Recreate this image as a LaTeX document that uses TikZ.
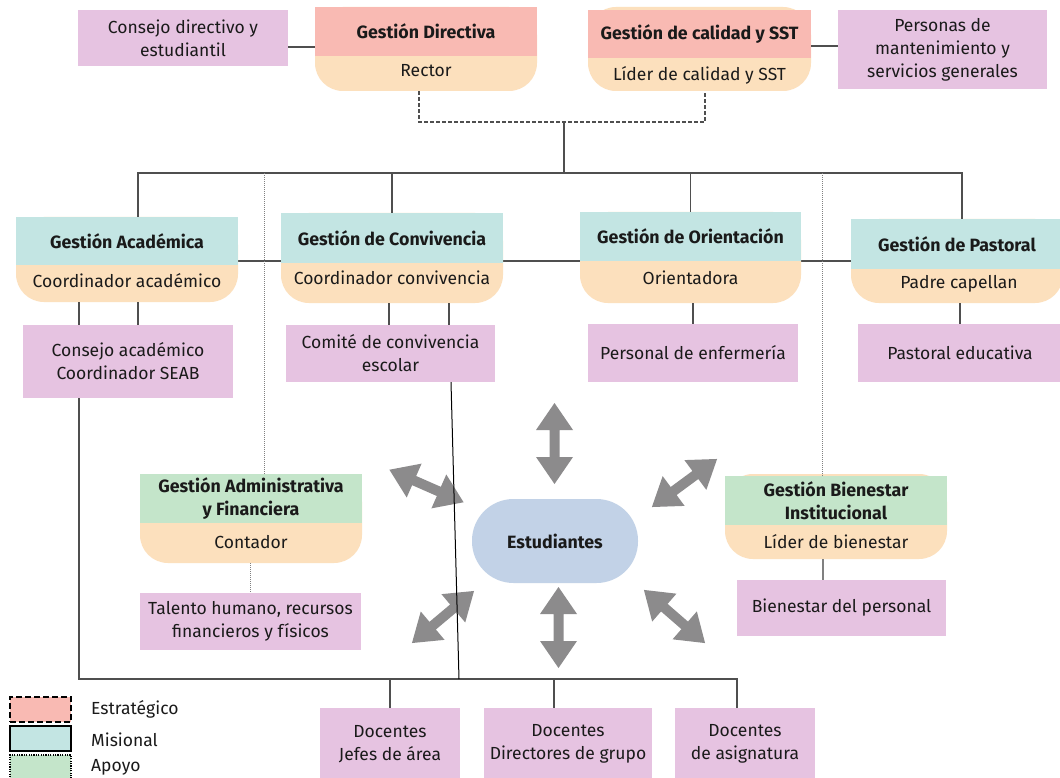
\documentclass[tikz,border=0pt]{standalone}
\usepackage{fontspec}
\setmainfont{Fira Sans}
\usetikzlibrary{backgrounds}
\definecolor{pinkc}{HTML}{E6C3E1}
\definecolor{salmonc}{HTML}{F9BAB3}
\definecolor{peachc}{HTML}{FCE0BD}
\definecolor{misc}{HTML}{C3E5E3}
\definecolor{apoyoc}{HTML}{C4E5CA}
\definecolor{estc}{HTML}{C2D2E7}
\definecolor{arrc}{HTML}{8C8B8C}
\definecolor{linec}{HTML}{4F4F4F}
\definecolor{txtc}{HTML}{1A1A1A}
\newcommand\fsz{\fontsize{17.5}{23}\selectfont}
\newcommand\fbz{\fontsize{17.8}{23}\selectfont\bfseries}
\newcommand\fatarrow[3]{\fill[arrc, shift={(#1,#2)}, rotate=#3] (-40.5,0) -- (-13.5,18.5) -- (-13.5,5) -- (13.5,5) -- (13.5,18.5) -- (40.5,0) -- (13.5,-18.5) -- (13.5,-5) -- (-13.5,-5) -- (-13.5,-18.5) -- cycle;}
\begin{document}
\begin{tikzpicture}[x=1pt, y=-1pt,
  every node/.style={font=\fsz, text=txtc, inner sep=0pt, align=center},
  pinkbox/.style={rectangle, fill=pinkc},
  body/.style={rectangle, fill=peachc, rounded corners=28pt},
  headbox/.style={rectangle, font=\fbz},
  conn/.style={draw=linec, line width=1.3pt},
  dashconn/.style={conn, dash pattern=on 4pt off 2pt},
  dotconn/.style={draw=gray, line width=1pt, dash pattern=on 1pt off 1pt},
  legbox/.style={rectangle, line width=2pt, draw=black, minimum width=61, minimum height=25}]
\useasboundingbox (0,0) rectangle (1060,778);

% ---------- strategic level ----------
\node[pinkbox, minimum width=210, minimum height=56] (CD) at (183,38) {Consejo directivo y\\estudiantil};
\node[body, minimum width=222, minimum height=84] (GDb) at (426,49) {};
\node[headbox, fill=salmonc, minimum width=222, minimum height=49] (GD) at (426,31.5) {Gestión Directiva};
\node (GDs) at (426,71) {Rector};

\node[body, minimum width=223, minimum height=84] (CALb) at (699.5,49) {};
\node[headbox, fill=salmonc, minimum width=223, minimum height=48] (CAL) at (699.5,34) {Gestión de calidad y SST};
\node (CALs) at (699.5,75) {Líder de calidad y SST};
\node[pinkbox, minimum width=209, minimum height=79] (PM) at (942.5,49.5) {Personas de\\mantenimiento y\\servicios generales};

% ---------- misional level ----------
\node[body, minimum width=222, minimum height=85] (GAb) at (127,259.5) {};
\node[headbox, fill=misc, minimum width=222, minimum height=48] (GA) at (127,241) {Gestión Académica};
\node (GAs) at (127,281) {Coordinador académico};

\node[body, minimum width=222, minimum height=90] (GCb) at (392,258) {};
\node[headbox, fill=misc, minimum width=222, minimum height=50] (GC) at (392,238) {Gestión de Convivencia};
\node (GCs) at (392,278) {Coordinador convivencia};

\node[body, minimum width=221, minimum height=91] (GOb) at (690.5,257.5) {};
\node[headbox, fill=misc, minimum width=221, minimum height=49] (GO) at (690.5,236.5) {Gestión de Orientación};
\node (GOs) at (690.5,278) {Orientadora};

\node[body, minimum width=212, minimum height=84] (GPb) at (957,261) {};
\node[headbox, fill=misc, minimum width=212, minimum height=50] (GP) at (957,244) {Gestión de Pastoral};
\node (GPs) at (959,284) {Padre capellan};

\node[pinkbox, minimum width=210, minimum height=73] (CA) at (128,361.5) {Consejo académico\\Coordinador SEAB};
\node[pinkbox, minimum width=209, minimum height=57] (CC) at (390.5,353.5) {Comité de convivencia\\escolar};
\node[pinkbox, minimum width=210, minimum height=58] (PE) at (693,353) {Personal de enfermería};
\node[pinkbox, minimum width=204, minimum height=58] (PA) at (960,353) {Pastoral educativa};

% ---------- apoyo level ----------
\node[body, minimum width=222, minimum height=89] (GAFb) at (251,518.5) {};
\node[headbox, fill=apoyoc, minimum width=222, minimum height=49] (GAF) at (251,498.5) {Gestión Administrativa\\y Financiera};
\node (GAFs) at (251,542) {Contador};
\node[pinkbox, minimum width=221, minimum height=57] (TH) at (250.5,621.5) {Talento humano, recursos\\financieros y físicos};

\node[body, minimum width=222, minimum height=85] (GBIb) at (836,516.5) {};
\node[headbox, fill=apoyoc, minimum width=222, minimum height=49] (GBI) at (836,500.5) {Gestión Bienestar\\Institucional};
\node (GBIs) at (836,542) {Líder de bienestar};
\node[pinkbox, minimum width=209, minimum height=56] (BP) at (841.5,608) {Bienestar del personal};

% ---------- students ----------
\node[rectangle, rounded corners=41.5pt, fill=estc, minimum width=166, minimum height=84, font=\fbz] (EST) at (555,541) {Estudiantes};
\fatarrow{554.5}{443.5}{90}
\fatarrow{558.5}{627.5}{90}
\fatarrow{426.5}{486}{-23.7}
\fatarrow{684.5}{483}{36.4}
\fatarrow{443}{617}{40}
\fatarrow{674.5}{616.5}{-41}

% ---------- teachers ----------
\node[pinkbox, minimum width=140, minimum height=72] (DJ) at (390,744) {Docentes\\Jefes de área};
\node[pinkbox, minimum width=168, minimum height=72] (DD) at (568,744) {Docentes\\Directores de grupo};
\node[pinkbox, minimum width=140, minimum height=72] (DA) at (745,744) {Docentes\\de asignatura};

% ---------- legend ----------
\node[legbox, fill=salmonc, dash pattern=on 6pt off 3pt] (L1) at (40.5,709.5) {};
\node[legbox, fill=misc] (L2) at (40.5,738.5) {};
\node[legbox, fill=apoyoc, line width=1.6pt, dash pattern=on 1.2pt off 1.2pt] (L3) at (40.5,767.5) {};
\node[anchor=west] (L1t) at (91,709) {Estratégico};
\node[anchor=west] (L2t) at (91,740) {Misional};
\node[anchor=west] (L3t) at (91,767) {Apoyo};

% ---------- helper coordinates ----------
\coordinate (bus) at (564,173);
\coordinate (j) at (564,122);
\coordinate (hl) at (0,261);
\coordinate (bb) at (0,679);
\coordinate (a1) at ([xshift=-48pt]GAb.south);
\coordinate (a2) at ([xshift=11pt]GAb.south);
\coordinate (c1) at ([xshift=-3pt]GCb.south);
\coordinate (c2) at ([xshift=57pt]GCb.south);
\coordinate (c3) at ([xshift=60.5pt]CC.south);
\coordinate (c4) at (459,679);
\coordinate (d1) at ([xshift=13pt]GAF.north);
\coordinate (d2) at ([xshift=-14pt]GBI.north);
\coordinate (b1) at ([xshift=-13pt]GBIb.south);
\coordinate (dd1) at ([xshift=-14pt]DD.north);
\coordinate (da1) at ([xshift=-8pt]DA.north);

% ---------- connectors ----------
\begin{scope}[on background layer]
  \fill[white] (0,0) rectangle (1060,778);
  \draw[conn] (GAb.east |- hl) -- (GPb.west |- hl);
\end{scope}
\draw[conn] ([yshift=-9pt]CD.east) -- ([yshift=-9pt]CD.east -| GD.west);
\draw[conn] ([yshift=3.5pt]PM.west) -- ([yshift=3.5pt]PM.west -| CAL.east);
\draw[dashconn] ([xshift=-7pt]GDb.south) |- (j) -| ([xshift=5.5pt]CALb.south);
\draw[conn] (j) -- (bus);
\draw[conn] ([xshift=11pt]GA.north) |- (bus) -| ([xshift=5pt]GP.north);
\draw[conn] (GC.north) -- (GC.north |- bus);
\draw[conn] (GO.north) -- (GO.north |- bus);
\draw[dotconn] (d1) -- (d1 |- bus);
\draw[dotconn] (d2) -- (d2 |- bus);
\draw[conn] (a1) -- (a1 |- CA.north);
\draw[conn] (a2) -- (a2 |- CA.north);
\draw[conn] (a1 |- CA.south) -- (a1 |- bb) -| (da1);
\draw[conn] (c1) -- (c1 |- CC.north);
\draw[conn] (c2) -- (c2 |- CC.north);
\draw[conn, line width=1pt, draw=black] (c3) -- (c4);
\draw[conn] (DJ.north |- bb) -- (DJ.north);
\draw[conn] (dd1 |- bb) -- (dd1);
\draw[conn] (PE.north |- GOb.south) -- (PE.north);
\draw[conn] (PA.north |- GPb.south) -- (PA.north);
\draw[dotconn] (TH.north |- GAFb.south) -- (TH.north);
\draw[conn, draw=gray] (b1) -- (b1 |- BP.north);
\end{tikzpicture}
\end{document}
